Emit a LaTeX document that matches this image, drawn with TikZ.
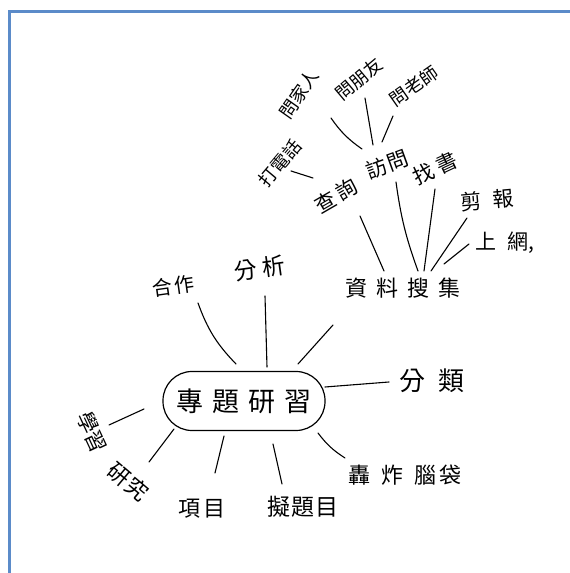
\documentclass[tikz,border=0pt]{standalone}
\usepackage{fontspec}
\newfontfamily\hand{Noto Sans CJK TC}
\definecolor{frameblue}{HTML}{5B8BC9}
\tikzset{
    word/.style={font=\hand\fontsize{#1}{#1}\selectfont, inner sep=0pt},
    word/.default=20,
    core/.style={draw, line width=1.2pt, rounded corners=29pt,
        minimum width=162pt, minimum height=59pt,
        font=\hand\fontsize{27}{27}\selectfont},
    twig/.style={line width=1.1pt, line cap=round},
}

\begin{document}
\begin{tikzpicture}[x=1pt,y=1pt]
    \useasboundingbox (0,0) rectangle (570,573);

    % Frame
    \draw[frameblue, line width=3pt] (9.5,0) -- (9.5,561.5) -- (570,561.5);

    % Topic in the middle
    \node[core] (core) at (244,172) {專\hspace{9pt}題\hspace{9pt}研\hspace{9pt}習};

    % Ideas round the topic
    \node[word=20, rotate=8] (hezuo) at (173,287) {合\hspace{2pt}作};
    \node[word=23, rotate=8] (fenxi) at (260,305) {分\hspace{5pt}析};
    \node[word=22] (data) at (403,285) {資\hspace{9pt}料\hspace{9pt}搜\hspace{9pt}集};
    \node[word=26] (fenlei) at (432,192) {分\hspace{13pt}類};
    \node[word=22] (hongzha) at (405,98) {轟\hspace{11pt}炸\hspace{11pt}腦\hspace{3pt}袋};
    \node[word=23] (niti) at (303,66) {擬\hspace{1pt}題\hspace{1pt}目};
    \node[word=22] (xiangmu) at (202,64) {項\hspace{3pt}目};
    \node[word=22, rotate=-40] (yanjiu) at (128,91) {研\hspace{1pt}究};
    \node[word=21, rotate=-65] (xuexi) at (92,141) {學習};

    % Ways to gather data
    \node[word=21, rotate=30] (chaxun) at (336,377) {查\hspace{4pt}詢};
    \node[word=21, rotate=20] (fangwen) at (387,409) {訪\hspace{2pt}問};
    \node[word=21, rotate=25] (zhaoshu) at (435,405) {找\hspace{5pt}書};
    \node[word=21, rotate=5] (jianbao) at (487,373) {剪\hspace{11pt}報};
    \node[word=21] (shangwang) at (505,330) {上\hspace{11pt}網,};

    % Whom to ask
    \node[word=18, rotate=50] (dadianhua) at (280,410) {打電話};
    \node[word=18, rotate=55] (wenjiaren) at (299,479) {問家人};
    \node[word=18, rotate=40] (wenpengyou) at (359,494) {問朋友};
    \node[word=18, rotate=35] (wenlaoshi) at (414,487) {問老師};

    % Branches from the topic
    \draw[twig] ([shift={(25,-17)}]hezuo.center) to[bend right=12] ([shift={(-8,37)}]core.center);
    \draw[twig] ([shift={(5,-28)}]fenxi.center) -- ([shift={(23,34)}]core.center);
    \draw[twig] ([shift={(-70,-37)}]data.center) -- ([shift={(54,37)}]core.center);
    \draw[twig] ([shift={(-43,-1)}]fenlei.center) -- ([shift={(81,14)}]core.center);
    \draw[twig] ([shift={(-60,17)}]hongzha.center) to[bend left=10] ([shift={(74,-32)}]core.center);
    \draw[twig] ([shift={(-21,23)}]niti.center) -- ([shift={(29,-43)}]core.center);
    \draw[twig] ([shift={(13,36)}]xiangmu.center) -- ([shift={(-20,-35)}]core.center);
    \draw[twig] ([shift={(21,20)}]yanjiu.center) -- ([shift={(-70,-28)}]core.center);
    \draw[twig] ([shift={(17,7)}]xuexi.center) -- ([shift={(-100,-8)}]core.center);

    % Branches from data gathering
    \draw[twig] ([shift={(24,-20)}]chaxun.center) -- ([shift={(-19,17)}]data.center);
    \draw[twig] ([shift={(9,-18)}]fangwen.center) to[bend right=6] ([shift={(15,17)}]data.center);
    \draw[twig] ([shift={(0,-21)}]zhaoshu.center) -- ([shift={(21,17)}]data.center);
    \draw[twig] ([shift={(-20,-18)}]jianbao.center) -- ([shift={(28,17)}]data.center);
    \draw[twig] ([shift={(-36,-1)}]shangwang.center) -- ([shift={(41,24)}]data.center);

    % Smaller branches
    \draw[twig] ([shift={(-23,18)}]chaxun.center) -- ([shift={(11,-8)}]dadianhua.center);
    \draw[twig] ([shift={(-25,15)}]fangwen.center) to[bend left=10] ([shift={(32,-24)}]wenjiaren.center);
    \draw[twig] ([shift={(-14,19)}]fangwen.center) -- ([shift={(6,-19)}]wenpengyou.center);
    \draw[twig] ([shift={(-5,22)}]fangwen.center) -- ([shift={(-21,-30)}]wenlaoshi.center);
\end{tikzpicture}
\end{document}
